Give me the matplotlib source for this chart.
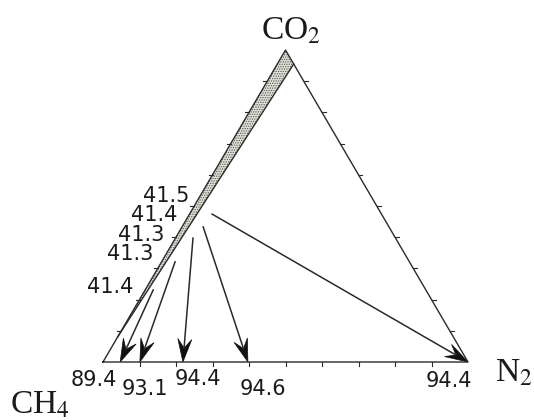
import numpy as np
import matplotlib
matplotlib.use("Agg")
import matplotlib.pyplot as plt
from matplotlib.patches import Polygon

plt.rcParams['mathtext.fontset'] = 'stix'
plt.rcParams['hatch.linewidth'] = 0.6

# compositions as (CO2 fraction, N2 fraction); CH4 is the rest
start_co2 = [0.231, 0.321, 0.397, 0.433, 0.474]
start_n2 = [0.022, 0.037, 0.048, 0.058, 0.062]
end_n2 = [0.047, 0.101, 0.219, 0.397, 1.0]

start_labels = ['41.4', '41.3', '41.3', '41.4', '41.5']
end_labels = ['89.4', '93.1', '94.4', '94.6', '94.4']

# shaded band along the CH4-CO2 side
band_co2 = [1.0, 0.955, 0.08]
band_n2 = [0.0, 0.045, 0.0]

H = np.sqrt(3) / 2
W_PX, H_PX = 534, 420
X0, Y0, AW, AH = 103, 58, 365, 312   # axes box in pixels
SX, SY = AW, AH / H                  # pixels per data unit


def tern(co2, n2):
    co2 = np.asarray(co2, float)
    n2 = np.asarray(n2, float)
    return n2 + co2 / 2, co2 * H


fig = plt.figure(figsize=(W_PX / 100, H_PX / 100), dpi=100)
ax = fig.add_axes([X0 / W_PX, Y0 / H_PX, AW / W_PX, AH / H_PX])
ax.set_xlim(0, 1)
ax.set_ylim(0, H)
ax.axis('off')

line_c = '#2a2a2a'

# band
bx, by = tern(band_co2, band_n2)
ax.add_patch(Polygon(np.c_[bx, by], closed=True, facecolor='#dfe1d6',
                     edgecolor='#555555', hatch='.......', lw=0, clip_on=False))
ax.plot(bx[1:], by[1:], color=line_c, lw=1.0, clip_on=False)

# triangle frame
tx, ty = tern([0, 0, 1, 0], [0, 1, 0, 0])
ax.plot(tx, ty, color=line_c, lw=1.0, clip_on=False)

# small ticks every 10 %
f = np.arange(1, 10) / 10
tl = 4
for v in f:
    x, y = tern(0, v)
    ax.plot([x, x], [y, y - tl / SY], color=line_c, lw=0.8, clip_on=False)
    x, y = tern(v, 0)
    ax.plot([x, x - tl / SX], [y, y], color=line_c, lw=0.8, clip_on=False)
    x, y = tern(v, 1 - v)
    ax.plot([x, x + tl / SX], [y, y], color=line_c, lw=0.8, clip_on=False)


def arrow(x0, y0, x1, y1, L=23, Wd=7, notch=9):
    dx, dy = (x1 - x0) * SX, (y1 - y0) * SY
    d = np.hypot(dx, dy)
    ux, uy = dx / d, dy / d
    nx, ny = -uy, ux
    pts = [(0, 0),
           (-L * ux + Wd * nx, -L * uy + Wd * ny),
           (-(L - notch) * ux, -(L - notch) * uy),
           (-L * ux - Wd * nx, -L * uy - Wd * ny)]
    pts = [(x1 + px / SX, y1 + py / SY) for px, py in pts]
    ax.plot([x0, pts[2][0]], [y0, pts[2][1]], color=line_c, lw=1.1, clip_on=False)
    ax.add_patch(Polygon(pts, closed=True, facecolor='#111111', edgecolor='#111111',
                         lw=0.5, clip_on=False))


sx, sy = tern(start_co2, start_n2)
ex, ey = tern(np.zeros(len(end_n2)), end_n2)
for a, b, c, d in zip(sx, sy, ex, ey):
    arrow(a, b, c, d)


def ftext(xp, yp, s, **kw):
    fig.text(xp / W_PX, 1 - yp / H_PX, s, **kw)


num = dict(fontsize=15, family='DejaVu Sans', color='#1a1a1a',
           ha='center', va='center')
for (xp, yp), s in zip([(110, 287), (130, 254), (141, 235), (154, 215), (166, 196)],
                       start_labels):
    ftext(xp, yp, s, **num)
for (xp, yp), s in zip([(94, 380), (145, 389), (198, 379), (263, 389), (449, 381)],
                       end_labels):
    ftext(xp, yp, s, **num)

vert = dict(fontsize=24, family='Liberation Serif', color='#1a1a1a',
            ha='left', va='baseline')
ftext(261, 40, 'CO$_2$', **vert)
ftext(495, 381, 'N$_2$', **vert)
ftext(10, 414, 'CH$_4$', **vert)

fig.savefig('out.png', dpi=100, facecolor='white')
